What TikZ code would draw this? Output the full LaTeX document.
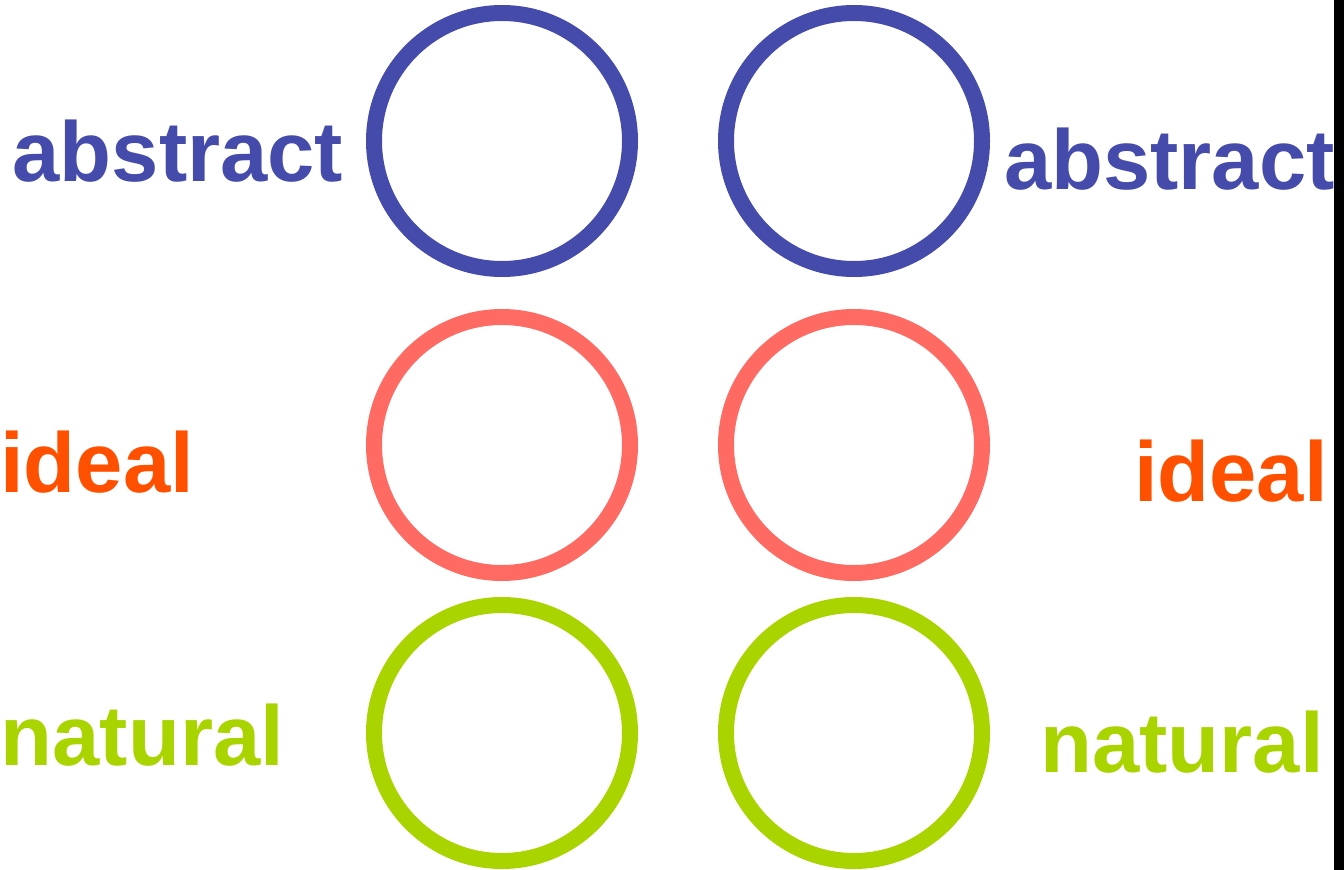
\documentclass[tikz,border=0pt]{standalone}
\usepackage{fontspec}
\setmainfont{Liberation Sans}
\definecolor{cblue}{RGB}{69,75,170}
\definecolor{cpink}{RGB}{255,106,99}
\definecolor{corange}{RGB}{255,80,0}
\definecolor{cgreen}{RGB}{170,212,0}
\tikzset{
  ring/.style={circle, draw=#1, line width=16pt, minimum size=256pt, inner sep=0pt},
  word/.style={text=#1, font=\fontsize{85}{100}\selectfont\bfseries, inner sep=0pt},
}
\begin{document}
\begin{tikzpicture}[x=1pt,y=-1pt]
\useasboundingbox (0,0) rectangle (1344,870);
\fill[black] (1334,0) rectangle (1344,870);
% circles
\node[ring=cblue]  (c1l) at (502,141) {};
\node[ring=cblue]  (c1r) at (854,141) {};
\node[ring=cpink]  (c2l) at (502,445) {};
\node[ring=cpink]  (c2r) at (854,445) {};
\node[ring=cgreen] (c3l) at (502,733) {};
\node[ring=cgreen] (c3r) at (854,733) {};
% labels
\node[word=cblue, anchor=base west]   (t1l) at (12.4,181) {abstract};
\node[word=cblue, anchor=base east]   (t1r) at (1335,189) {abstract};
\node[word=corange, anchor=base west] (t2l) at (0,492) {ideal};
\node[word=corange, anchor=base east] (t2r) at (1328,501) {ideal};
\node[word=cgreen, anchor=base west]  (t3l) at (0.4,765) {natural};
\node[word=cgreen, anchor=base east]  (t3r) at (1324,772) {natural};
\end{tikzpicture}
\end{document}
